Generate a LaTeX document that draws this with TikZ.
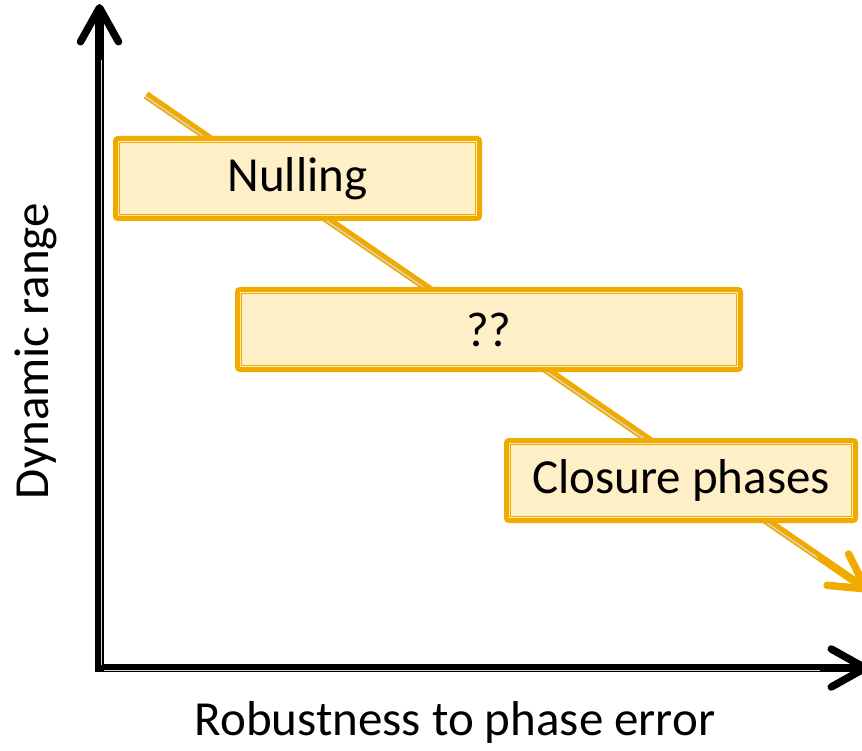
\documentclass[tikz,border=0pt]{standalone}
\usepackage{fontspec}
\setmainfont{Carlito}
\usetikzlibrary{arrows.meta,calc}
\definecolor{gold}{RGB}{240,171,0}
\definecolor{cream}{RGB}{255,239,199}
\definecolor{stripe}{RGB}{215,215,215}
\begin{document}
\begin{tikzpicture}[x=1pt,y=-1pt,
  lbl/.style={font=\fontsize{49}{58}\selectfont, inner sep=0pt},
  box/.style={draw=gold, fill=cream, line width=5pt, rounded corners=2.5pt,
    minimum width=#1, minimum height=80pt, inner sep=0pt,
    font=\fontsize{49}{58}\selectfont},
  innerline/.style={draw=gold, line width=1.5pt},
  axisline/.style={draw=black, line width=8.5pt,
    -{Straight Barb[length=34pt, width=38pt, round, line width=7.5pt]}},
  trendline/.style={draw=gold, line width=8pt,
    -{Straight Barb[length=34pt, width=38pt, round, line width=7.5pt]}},
  stripeline/.style={draw=stripe, line width=1.3pt}
]
\useasboundingbox (0,0) rectangle (862,751);

% trend arrow
\coordinate (ts) at (146,95);
\coordinate (te) at (869,591);
\draw[trendline] (ts) -- (te);
\draw[stripeline, transform canvas={shift={(-0.9,1.3)}}] (ts) -- ($(ts)!0.93!(te)$);

% boxes
\node[box=364pt] (nulling) at (297.5,178.5) {Nulling};
\node[box=503pt] (qq) at (489,329.5) {??};
\node[box=349pt] (closure) at (681,480.5) {Closure phases};
\foreach \n in {nulling,qq,closure}{
  \draw[innerline] ([xshift=6.5pt,yshift=-6.5pt]\n.north west) rectangle ([xshift=-6.5pt,yshift=6.5pt]\n.south east);
}

% axes
\coordinate (O) at (99.5,668);
\coordinate (ytip) at (99.5,4);
\coordinate (xtip) at (869,668);
\draw[axisline] ([yshift=-4.25pt]O) -- (ytip);
\draw[axisline] ([xshift=-4.25pt]O) -- (xtip);
\draw[stripeline] (101.8,665) -- (101.8,60);
\draw[stripeline] (104,670.3) -- (820,670.3);

% labels
\node[lbl, rotate=90] (ylab) at (36,351) {Dynamic range};
\node[lbl] (xlab) at (455,722) {Robustness to phase error};
\end{tikzpicture}
\end{document}
